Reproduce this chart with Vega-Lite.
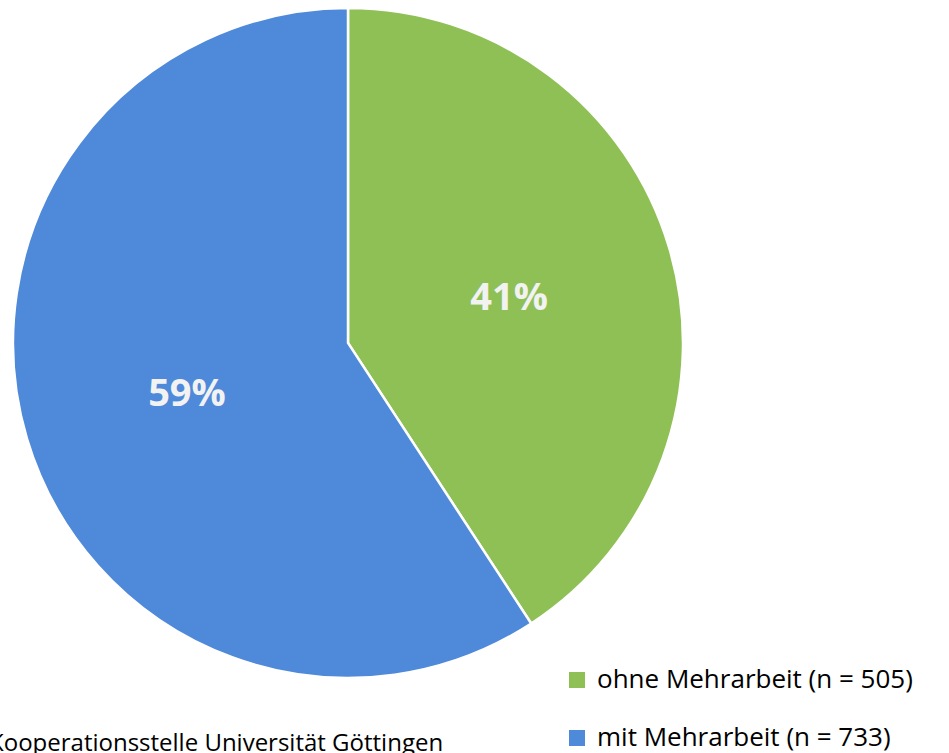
{
  "$schema": "https://vega.github.io/schema/vega-lite/v6.json",
  "width": 670,
  "height": 670,
  "autosize": {"type": "none"},
  "padding": {"left": 13, "top": 8, "right": 266, "bottom": 75},
  "background": "white",
  "config": {"view": {"stroke": null}, "font": "Open Sans"},
  "title": {
    "text": "Kooperationsstelle Universität Göttingen",
    "orient": "bottom",
    "anchor": "start",
    "fontSize": 24,
    "fontWeight": "normal",
    "color": "black",
    "font": "Open Sans",
    "dx": -19,
    "offset": -19
  },
  "data": {
    "values": [
      {"category": "ohne Mehrarbeit (n = 505)", "n": 505, "label": "41%", "ord": 1},
      {"category": "mit Mehrarbeit (n = 733)", "n": 733, "label": "59%", "ord": 2}
    ]
  },
  "encoding": {
    "theta": {"field": "n", "type": "quantitative", "stack": true},
    "order": {"field": "ord", "type": "quantitative"},
    "color": {
      "field": "category",
      "type": "nominal",
      "scale": {
        "domain": ["ohne Mehrarbeit (n = 505)", "mit Mehrarbeit (n = 733)"],
        "range": ["#8FC055", "#4F89D9"]
      },
      "legend": {
        "title": null,
        "orient": "none",
        "legendX": 551,
        "legendY": 659,
        "symbolType": "square",
        "symbolSize": 256,
        "symbolStrokeWidth": 0,
        "labelFontSize": 26,
        "labelFont": "Open Sans",
        "labelColor": "black",
        "labelOffset": 7,
        "rowPadding": 32,
        "labelLimit": 400
      }
    }
  },
  "layer": [
    {
      "mark": {"type": "arc", "outerRadius": 335, "stroke": "white", "strokeWidth": 2.5}
    },
    {
      "mark": {"type": "text", "radius": 168, "dy": 4, "fontSize": 38, "fontWeight": "bold", "font": "Open Sans", "fill": "#F2F2F2"},
      "encoding": {"text": {"field": "label"}, "color": {"value": "#F2F2F2"}}
    }
  ]
}
